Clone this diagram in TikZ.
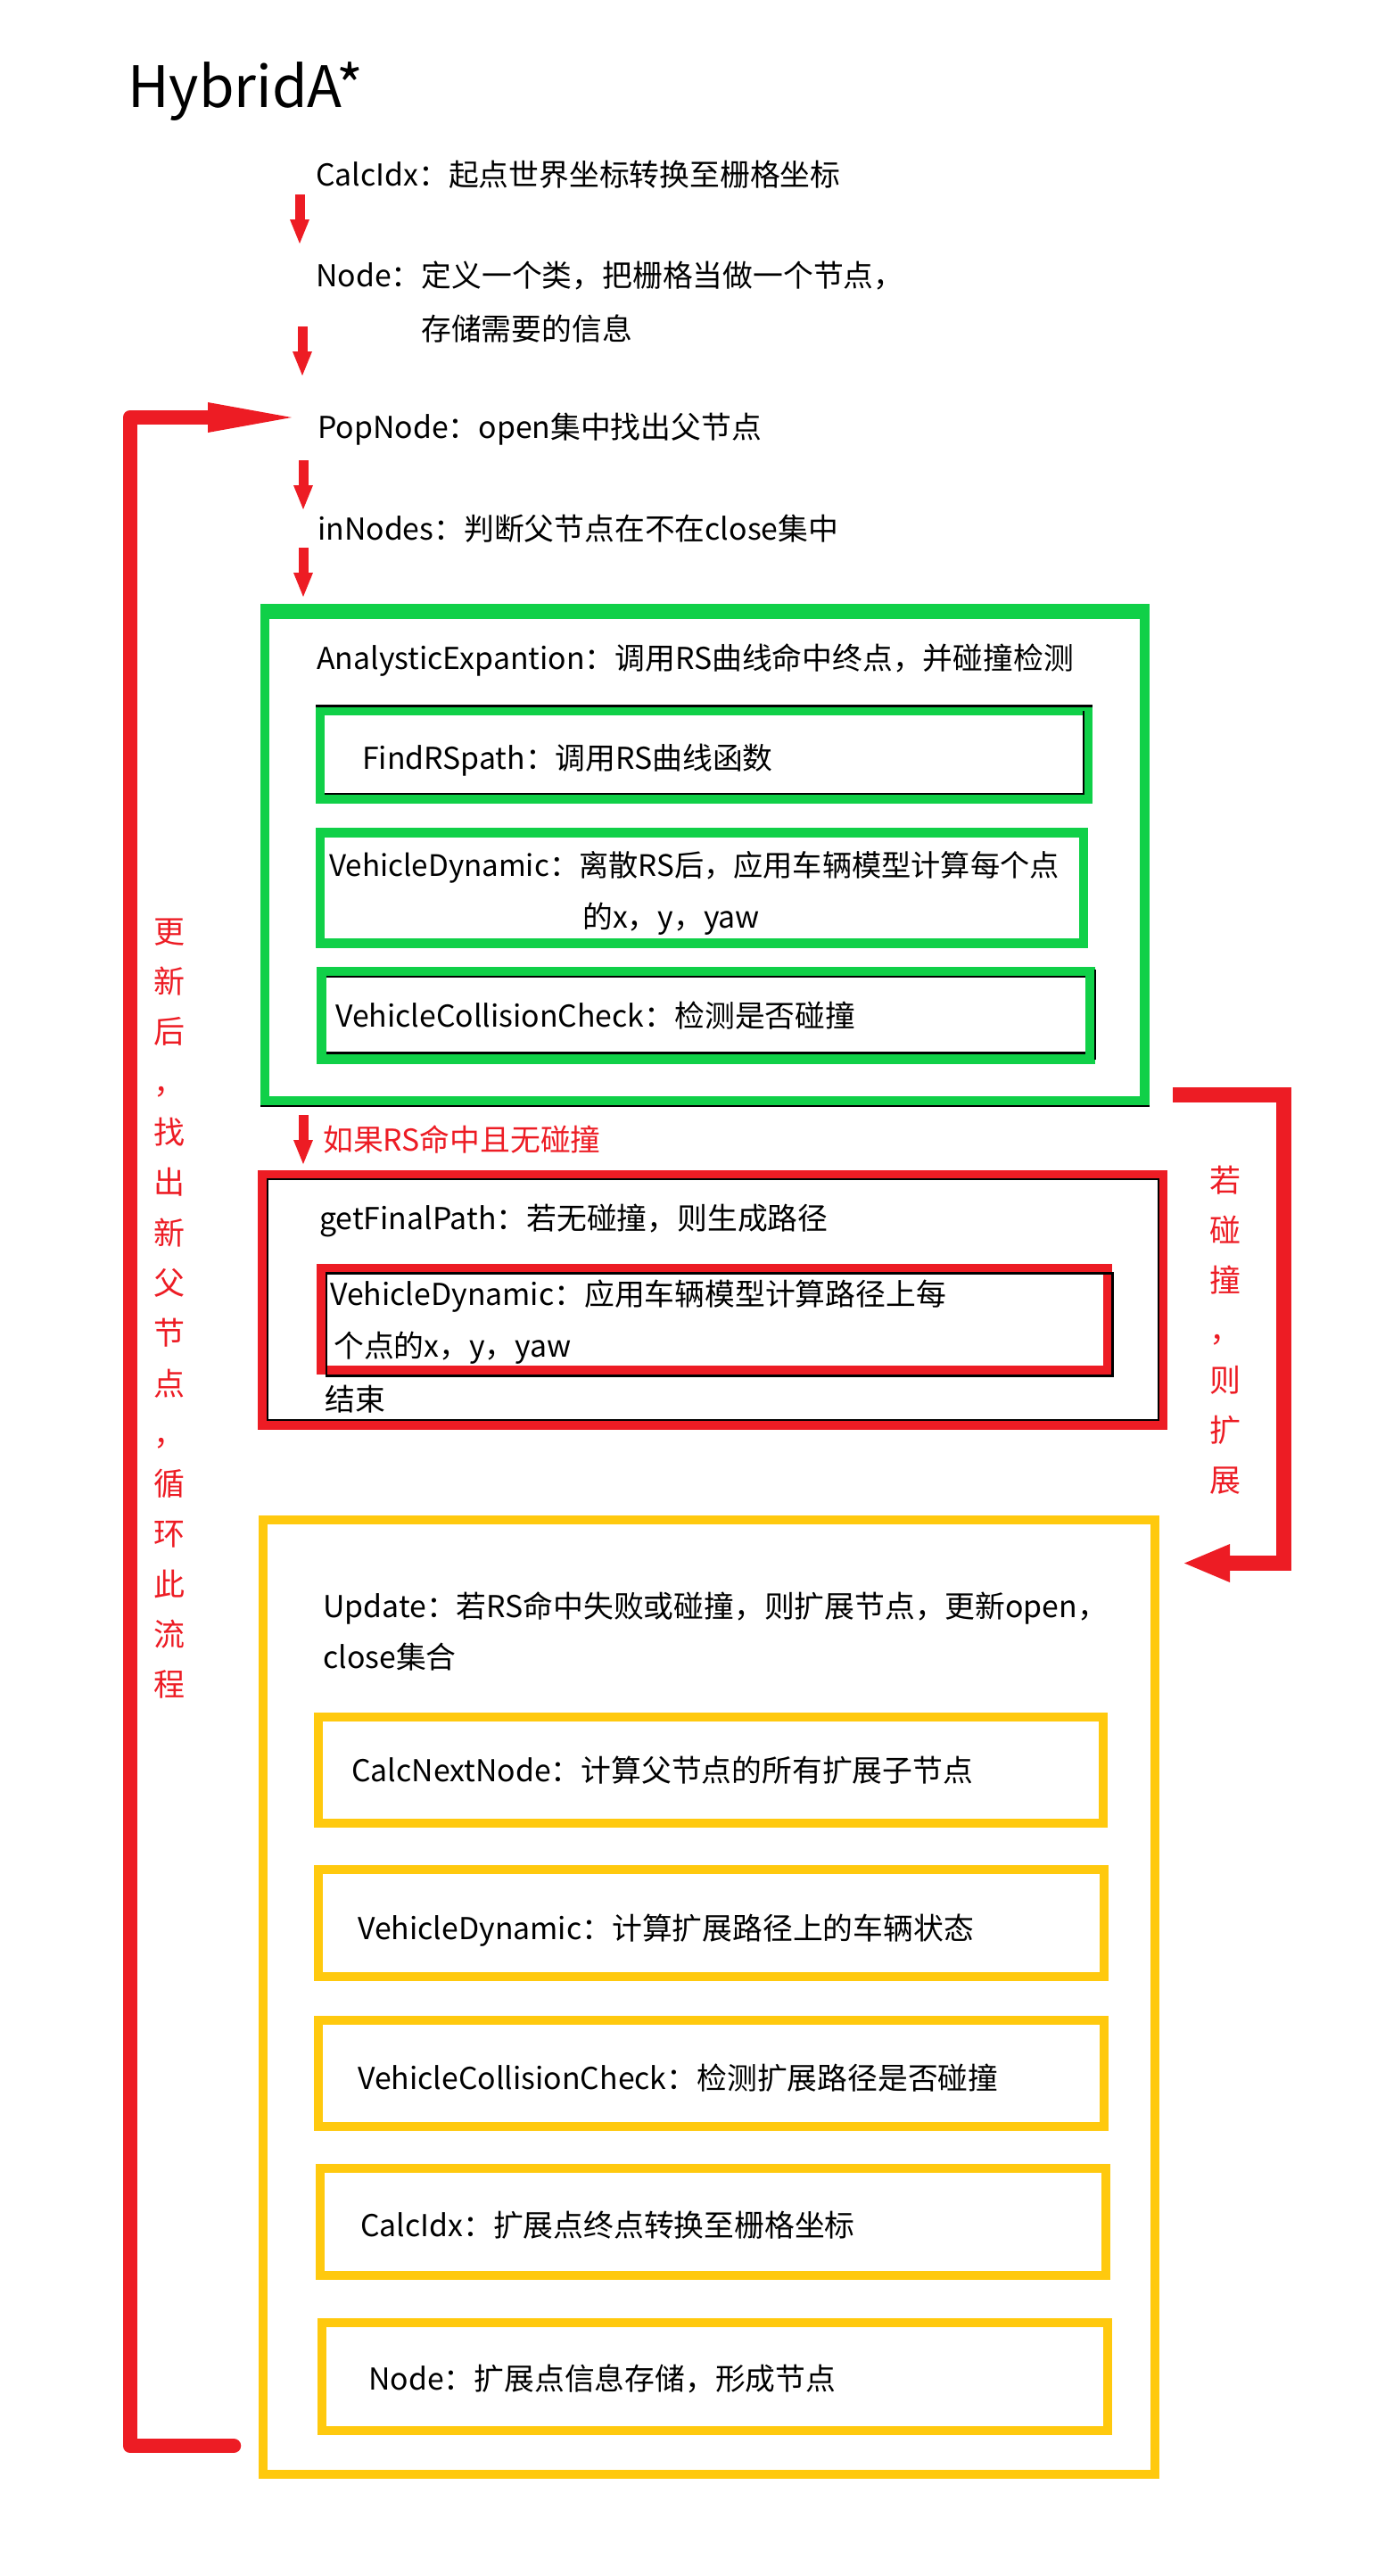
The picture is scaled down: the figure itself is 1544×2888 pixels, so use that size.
\documentclass[tikz,border=0pt]{standalone}
\usepackage{fontspec}
\setmainfont{Noto Sans CJK SC}
\usetikzlibrary{arrows.meta}
\definecolor{pred}{RGB}{237,28,36}
\definecolor{pgreen}{RGB}{16,208,72}
\definecolor{pyellow}{RGB}{255,201,14}
\begin{document}
\begin{tikzpicture}[x=1pt,y=-1pt,
  txt/.style={anchor=base west, inner sep=0pt, font=\fontsize{33.8}{40}\selectfont},
  vtxt/.style={anchor=center, inner sep=0pt, text height=30.8pt, text depth=4.2pt, font=\fontsize{35}{42}\selectfont, text=pred},
  gbox/.style={draw=pgreen, line width=10.5pt},
  rbox/.style={draw=pred, line width=10.5pt},
  ybox/.style={draw=pyellow, line width=10pt},
  blk/.style={draw=black, line width=2.5pt},
  sarrow/.style={draw=pred, line width=11pt, -{Triangle[width=22pt,length=27pt,line width=0pt]}},
]
\fill[white] (0,0) rectangle (1544,2888);
\useasboundingbox (0,0) rectangle (1544,2888);

% title
\node[txt, font=\fontsize{64}{70}\selectfont] (title) at (143,120) {HybridA*};

% top texts
\node[txt] (c1) at (354,208) {CalcIdx：起点世界坐标转换至栅格坐标};
\node[txt] (n1) at (354,321) {Node：定义一个类，把栅格当做一个节点，};
\node[txt] (n1b) at (472,381) {存储需要的信息};
\node[txt] (p1) at (356,491) {PopNode：open集中找出父节点};
\node[txt] (i1) at (356,605) {inNodes：判断父节点在不在close集中};

% small arrows
\coordinate (a1s) at (336,218); \coordinate (a1e) at (336,273);
\coordinate (a2s) at (339,366); \coordinate (a2e) at (339,421);
\coordinate (a3s) at (340,516); \coordinate (a3e) at (340,571);
\coordinate (a4s) at (340,614); \coordinate (a4e) at (340,669);
\coordinate (a5s) at (340,1250); \coordinate (a5e) at (340,1305);
\draw[sarrow] (a1s) -- (a1e);
\draw[sarrow] (a2s) -- (a2e);
\draw[sarrow] (a3s) -- (a3e);
\draw[sarrow] (a4s) -- (a4e);
\draw[sarrow] (a5s) -- (a5e);

% green group
\fill[pgreen] (292,677) rectangle (1289,694);
\draw[gbox] (297,683) rectangle (1283.5,1234);
\draw[black, line width=1.5pt] (292,1240) -- (1289,1240);
\draw[gbox] (359,797) rectangle (1220,896);
\draw[blk] (354,791.5) -- (1225,791.5);
\draw[blk] (1215,797) -- (1215,890) -- (364,890);
\draw[gbox] (359,933.5) rectangle (1215,1057.5);
\draw[gbox] (360.5,1089) rectangle (1222.5,1187.5);
\draw[blk] (366,1095) -- (1217,1095);
\draw[blk] (366,1180.5) -- (1217,1180.5);
\draw[blk] (1228,1087) -- (1228,1188);

\node[txt] (ae) at (355,750) {AnalysticExpantion：调用RS曲线命中终点，并碰撞检测};
\node[txt] (fr) at (406,862) {FindRSpath：调用RS曲线函数};
\node[txt, font=\fontsize{33.2}{40}\selectfont] (vd1) at (369,982) {VehicleDynamic：离散RS后，应用车辆模型计算每个点};
\node[txt] (vd1b) at (653,1040) {的x，y，yaw};
\node[txt] (vc1) at (376,1151) {VehicleCollisionCheck：检测是否碰撞};

% condition
\node[txt, text=pred] (cond) at (362,1290) {如果RS命中且无碰撞};

% red group
\draw[rbox] (294.5,1317) rectangle (1304,1597.5);
\draw[blk] (300,1322) rectangle (1299,1592);
\draw[rbox] (360.5,1422) rectangle (1242,1536);
\draw[blk] (366,1427.5) rectangle (1247.5,1542.5);
\node[txt] (gf) at (358,1378) {getFinalPath：若无碰撞，则生成路径};
\node[txt] (vd2) at (370,1463) {VehicleDynamic：应用车辆模型计算路径上每};
\node[txt] (vd2b) at (374,1521) {个点的x，y，yaw};
\node[txt] (fin) at (364,1581) {结束};

% yellow group
\draw[ybox] (295,1704) rectangle (1294.5,2774);
\draw[ybox] (357,1925) rectangle (1237,2044);
\draw[ybox] (357,2096) rectangle (1238,2216);
\draw[ybox] (357,2265) rectangle (1238,2384);
\draw[ybox] (359,2431) rectangle (1240,2551);
\draw[ybox] (361,2604) rectangle (1242,2725);
\node[txt] (up) at (362,1813) {Update：若RS命中失败或碰撞，则扩展节点，更新open，};
\node[txt] (upb) at (362,1870) {close集合};
\node[txt] (cn) at (394,1997) {CalcNextNode：计算父节点的所有扩展子节点};
\node[txt] (vd3) at (401,2174) {VehicleDynamic：计算扩展路径上的车辆状态};
\node[txt] (vc3) at (401,2342) {VehicleCollisionCheck：检测扩展路径是否碰撞};
\node[txt] (ci3) at (404,2507) {CalcIdx：扩展点终点转换至栅格坐标};
\node[txt] (nd3) at (413,2679) {Node：扩展点信息存储，形成节点};

% left loop arrow
\coordinate (lb) at (262,2742);
\coordinate (lc1) at (146,2742);
\coordinate (lc2) at (146,468);
\coordinate (ltip) at (327,468);
\draw[pred, line width=16.5pt, line join=round, line cap=round,
  -{Triangle[width=34pt,length=94pt,line width=0pt]}] (lb) -- (lc1) -- (lc2) -- (ltip);

% right arrow
\coordinate (rs) at (1315,1227);
\coordinate (rc1) at (1439,1227);
\coordinate (rc2) at (1439,1752.5);
\coordinate (rtip) at (1328,1752.5);
\draw[pred, line width=17pt, line join=miter,
  -{Triangle[width=43pt,length=51pt,line width=0pt]}] (rs) -- (rc1) -- (rc2) -- (rtip);

% vertical texts
\foreach \c [count=\k from 0] in {更,新,后,，,找,出,新,父,节,点,，,循,环,此,流,程}
  \node[vtxt] (L\k) at (190,1044+56.3*\k) {\c};
\foreach \c [count=\k from 0] in {若,碰,撞,，,则,扩,展}
  \node[vtxt] (R\k) at (1374,1323+56*\k) {\c};
\end{tikzpicture}
\end{document}
